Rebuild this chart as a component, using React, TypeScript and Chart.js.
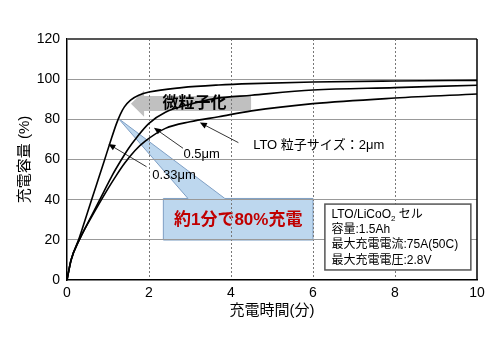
import React, { useEffect, useRef } from "react";
import { Chart, registerables } from "chart.js";

Chart.register(...registerables);

// ---- data ----
const xTickValues = [0, 2, 4, 6, 8, 10];
const yTickValues = [0, 20, 40, 60, 80, 100, 120];

const curve033X = [0, 0.1, 0.3, 0.5, 0.7, 0.9, 1.05, 1.2, 1.3, 1.4, 1.55, 1.75, 2.0, 2.8, 3.7, 4.5, 6, 8, 10];
const curve033Y = [0, 10, 21, 33.6, 46.2, 58.8, 68.3, 77.5, 82.5, 86.2, 89.6, 92, 93.6, 95.8, 97.1, 97.8, 98.6, 99.1, 99.4];

const curve05X = [0, 0.1, 0.3, 0.6, 0.9, 1.1, 1.3, 1.5, 1.7, 2.0, 2.4, 3.0, 3.6, 4.5, 6, 8, 10];
const curve05Y = [0, 10, 20, 32, 44, 52, 59, 65.5, 71, 78, 83.5, 87.5, 90.3, 92, 94.6, 95.8, 97];

const curve2X = [0, 0.1, 0.3, 0.7, 1.0, 1.2, 1.4, 1.66, 1.9, 2.4, 3.0, 3.7, 4.5, 6, 8, 10];
const curve2Y = [0, 10, 20, 35, 45.5, 52, 58, 64.5, 69, 75.5, 78.8, 81.3, 84.2, 87.8, 90.6, 92.6];

const seriesLabels = ["0.33μm", "0.5μm", "LTO 粒子サイズ：2μm"];
const yTitle = "充電容量 (%)";
const xTitle = "充電時間(分)";
const arrowText = "微粒子化";
const calloutText = "約1分で80%充電";
const infoLines = ["容量:1.5Ah", "最大充電電流:75A(50C)", "最大充電電圧:2.8V"];

const FONT = "'Liberation Sans', 'Noto Sans CJK JP', sans-serif";

function toPoints(xs: number[], ys: number[]) {
  return xs.map((x, i) => ({ x, y: ys[i] }));
}

function arrow(ctx: CanvasRenderingContext2D, x1: number, y1: number, x2: number, y2: number) {
  const ang = Math.atan2(y2 - y1, x2 - x1);
  const len = 7;
  const hw = 3;
  ctx.save();
  ctx.strokeStyle = "#000";
  ctx.fillStyle = "#000";
  ctx.lineWidth = 0.8;
  ctx.beginPath();
  ctx.moveTo(x1, y1);
  ctx.lineTo(x2 - Math.cos(ang) * len * 0.8, y2 - Math.sin(ang) * len * 0.8);
  ctx.stroke();
  ctx.beginPath();
  ctx.moveTo(x2, y2);
  ctx.lineTo(x2 - Math.cos(ang) * len - Math.sin(ang) * hw, y2 - Math.sin(ang) * len + Math.cos(ang) * hw);
  ctx.lineTo(x2 - Math.cos(ang) * len + Math.sin(ang) * hw, y2 - Math.sin(ang) * len - Math.cos(ang) * hw);
  ctx.closePath();
  ctx.fill();
  ctx.restore();
}

const annotPlugin = {
  id: "annot",
  beforeDraw(chart: any) {
    const { ctx } = chart;
    const X = (v: number) => chart.scales.x.getPixelForValue(v);
    const Y = (v: number) => chart.scales.y.getPixelForValue(v);
    ctx.save();
    // callout (box + wedge)
    ctx.beginPath();
    ctx.moveTo(X(2.35), Y(40.6));
    ctx.lineTo(X(2.95), Y(40.6));
    ctx.lineTo(X(1.25), Y(80.5));
    ctx.lineTo(X(3.85), Y(40.6));
    ctx.lineTo(X(6.0), Y(40.6));
    ctx.lineTo(X(6.0), Y(19.9));
    ctx.lineTo(X(2.35), Y(19.9));
    ctx.closePath();
    ctx.fillStyle = "#bdd7ee";
    ctx.fill();
    ctx.strokeStyle = "#7f9fc4";
    ctx.lineWidth = 1;
    ctx.stroke();
    ctx.fillStyle = "#c00000";
    ctx.font = `bold 17px ${FONT}`;
    ctx.textAlign = "center";
    ctx.textBaseline = "middle";
    ctx.fillText(calloutText, (X(2.35) + X(6.0)) / 2, Y(29.9));

    // gray arrow
    ctx.beginPath();
    ctx.moveTo(X(1.56), Y(87.8));
    ctx.lineTo(X(1.88), Y(94.3));
    ctx.lineTo(X(1.88), Y(91.6));
    ctx.lineTo(X(4.49), Y(91.6));
    ctx.lineTo(X(4.49), Y(84.1));
    ctx.lineTo(X(1.88), Y(84.1));
    ctx.lineTo(X(1.88), Y(81.3));
    ctx.closePath();
    ctx.fillStyle = "#c0c0c0";
    ctx.fill();
    ctx.fillStyle = "#000";
    ctx.font = `bold 16px ${FONT}`;
    ctx.fillText(arrowText, X(3.11), Y(87.6));
    ctx.restore();
  },
  afterDraw(chart: any) {
    const { ctx, chartArea } = chart;
    const X = (v: number) => chart.scales.x.getPixelForValue(v);
    const Y = (v: number) => chart.scales.y.getPixelForValue(v);
    ctx.save();
    // top & right borders
    ctx.lineWidth = 2;
    ctx.strokeStyle = "#555";
    ctx.beginPath();
    ctx.moveTo(chartArea.left, chartArea.top);
    ctx.lineTo(chartArea.right, chartArea.top);
    ctx.stroke();
    ctx.lineWidth = 1.5;
    ctx.strokeStyle = "#000";
    ctx.beginPath();
    ctx.moveTo(chartArea.right, chartArea.top);
    ctx.lineTo(chartArea.right, chartArea.bottom);
    ctx.stroke();

    // pointer arrows + labels
    arrow(ctx, X(1.94), Y(56.4), X(1.01), Y(67.7));
    arrow(ctx, X(2.83), Y(65.6), X(2.12), Y(75.8));
    arrow(ctx, X(4.18), Y(68.4), X(3.24), Y(78.4));
    ctx.fillStyle = "#000";
    ctx.font = `13px ${FONT}`;
    ctx.textAlign = "left";
    ctx.textBaseline = "middle";
    ctx.fillText(seriesLabels[0], X(2.08), Y(52.0));
    ctx.fillText(seriesLabels[1], X(2.84), Y(62.7));
    ctx.fillText(seriesLabels[2], X(4.54), Y(67.2));

    // info box
    const bx = X(6.29), by = Y(37.8), bw = X(9.85) - X(6.29), bh = Y(5.0) - Y(37.8);
    ctx.fillStyle = "#fff";
    ctx.fillRect(bx, by, bw, bh);
    ctx.strokeStyle = "#555";
    ctx.lineWidth = 1.5;
    ctx.strokeRect(bx, by, bw, bh);
    ctx.fillStyle = "#000";
    ctx.font = `12px ${FONT}`;
    const tx = X(6.45);
    let ty = by + 10.5;
    ctx.fillText("LTO/LiCoO", tx, ty);
    let w = ctx.measureText("LTO/LiCoO").width;
    ctx.font = `8px ${FONT}`;
    ctx.fillText("2", tx + w, ty + 4);
    const w2 = ctx.measureText("2").width;
    ctx.font = `12px ${FONT}`;
    ctx.fillText(" セル", tx + w + w2, ty);
    infoLines.forEach((line, i) => {
      ctx.fillText(line, tx, ty + 15.3 * (i + 1));
    });
    ctx.restore();
  },
};

export default function App() {
  const ref = useRef<HTMLCanvasElement | null>(null);
  useEffect(() => {
    document.body.style.margin = "0";
    const canvas = ref.current;
    if (!canvas) return;
    const lineDs = (label: string, xs: number[], ys: number[]) => ({
      label,
      data: toPoints(xs, ys),
      showLine: true,
      borderColor: "#000",
      backgroundColor: "#000",
      borderWidth: 1.6,
      pointRadius: 0,
      cubicInterpolationMode: "monotone" as const,
      fill: false,
    });
    const chart = new Chart(canvas, {
      type: "scatter",
      data: {
        datasets: [
          lineDs(seriesLabels[0], curve033X, curve033Y),
          lineDs(seriesLabels[1], curve05X, curve05Y),
          lineDs(seriesLabels[2], curve2X, curve2Y),
        ],
      },
      options: {
        animation: false,
        responsive: false,
        devicePixelRatio: 1,
        layout: { padding: { top: 39, right: 23, left: 0, bottom: 0 } },
        plugins: { legend: { display: false }, tooltip: { enabled: false } },
        scales: {
          x: {
            type: "linear",
            min: 0,
            max: 10,
            afterFit: (s: any) => { s.height = 80; },
            afterBuildTicks: (s: any) => { s.ticks = xTickValues.map((v) => ({ value: v })); },
            ticks: { color: "#000", font: { family: FONT, size: 14 }, padding: 5 },
            grid: {
              drawTicks: false,
              color: (c: any) => (c.tick && c.tick.value > 0 && c.tick.value < 10 ? "#777" : "rgba(0,0,0,0)"),
              lineWidth: 1,
            },
            border: { display: true, color: "#000", width: 1.5, dash: [2, 2] },
            title: { display: true, text: xTitle, color: "#000", font: { family: FONT, size: 15 }, padding: { top: 0, bottom: 40 } },
          },
          y: {
            type: "linear",
            min: 0,
            max: 120,
            afterFit: (s: any) => { s.width = 67; },
            afterBuildTicks: (s: any) => { s.ticks = yTickValues.map((v) => ({ value: v })); },
            ticks: { color: "#000", font: { family: FONT, size: 14 }, padding: 7 },
            grid: {
              drawTicks: false,
              color: (c: any) => (c.tick && c.tick.value > 0 && c.tick.value < 120 ? "#999" : "rgba(0,0,0,0)"),
              lineWidth: 1,
            },
            border: { display: true, color: "#000", width: 1.5 },
            title: { display: true, text: yTitle, color: "#000", font: { family: FONT, size: 15 }, padding: { top: 16, bottom: 0 } },
          },
        },
      },
      plugins: [annotPlugin],
    } as any);
    return () => chart.destroy();
  }, []);
  return (
    <div style={{ width: 500, height: 360 }}>
      <canvas ref={ref} width={500} height={360} style={{ display: "block" }} />
    </div>
  );
}
